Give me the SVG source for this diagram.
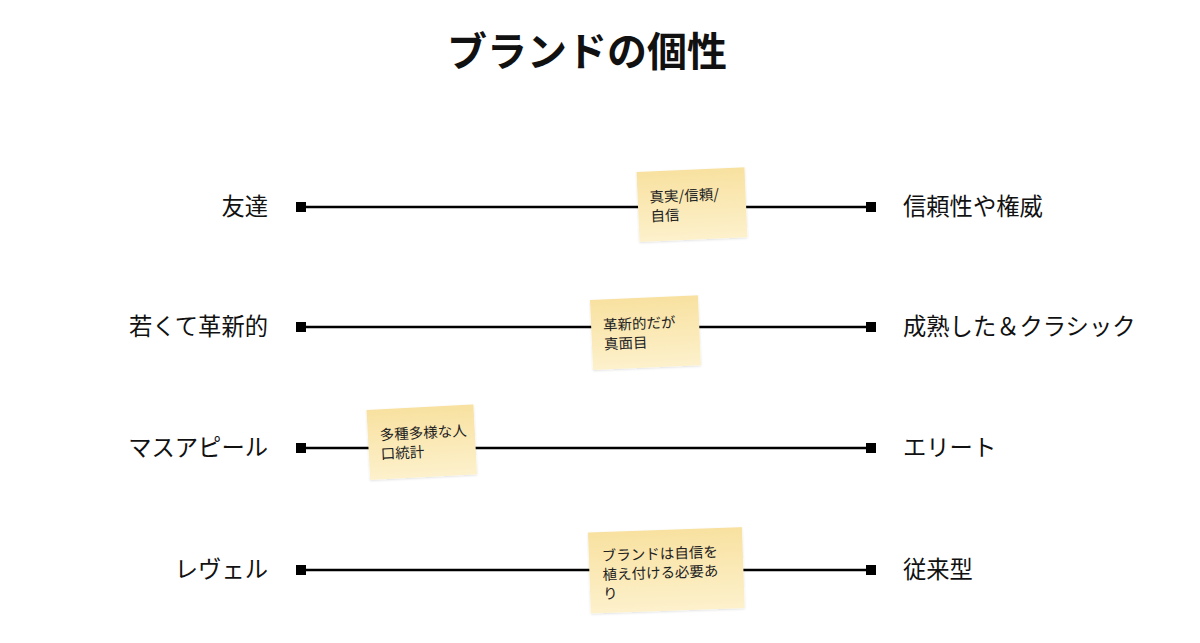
<svg xmlns="http://www.w3.org/2000/svg" width="1200" height="643" viewBox="0 0 1200 643">
<defs>
<linearGradient id="sticky" x1="0" y1="0" x2="0" y2="1">
<stop offset="0" stop-color="#f8e1a0"/>
<stop offset="1" stop-color="#fdf1cc"/>
</linearGradient>
<filter id="sh" x="-10%" y="-10%" width="130%" height="130%">
<feDropShadow dx="0" dy="1" stdDeviation="1" flood-color="#000" flood-opacity="0.12"/>
</filter>
<style>
.t{font-family:"Noto Sans CJK JP","Noto Sans",sans-serif;fill:#111;}
.lab{font-size:23.3px;}
.note{font-size:14.5px;fill:#222;}
.ln{stroke:#000;stroke-width:2.5;fill:none;}
.end{fill:#000;}
.st{fill:url(#sticky);filter:url(#sh);}
</style>
</defs>
<rect width="1200" height="643" fill="#fff"/>
<text class="t" x="587" y="66" text-anchor="middle" font-size="40" font-weight="bold">ブランドの個性</text>

<g id="connectors">
<line class="ln" x1="301" y1="207" x2="871" y2="207"/>
<line class="ln" x1="301" y1="327" x2="871" y2="327"/>
<line class="ln" x1="301" y1="448" x2="871" y2="448"/>
<line class="ln" x1="301" y1="570" x2="871" y2="570"/>
<rect class="end" x="296" y="202" width="10" height="10"/>
<rect class="end" x="866" y="202" width="10" height="10"/>
<rect class="end" x="296" y="322" width="10" height="10"/>
<rect class="end" x="866" y="322" width="10" height="10"/>
<rect class="end" x="296" y="443" width="10" height="10"/>
<rect class="end" x="866" y="443" width="10" height="10"/>
<rect class="end" x="296" y="565" width="10" height="10"/>
<rect class="end" x="866" y="565" width="10" height="10"/>
</g>

<g id="row1">
<text class="t lab" x="268" y="215" text-anchor="end">友達</text>
<text class="t lab" x="903" y="215">信頼性や権威</text>
</g>
<g id="row2">
<text class="t lab" x="268" y="335" text-anchor="end">若くて革新的</text>
<text class="t lab" x="903" y="335">成熟した＆クラシック</text>
</g>
<g id="row3">
<text class="t lab" x="268" y="456" text-anchor="end">マスアピール</text>
<text class="t lab" x="903" y="456">エリート</text>
</g>
<g id="row4">
<text class="t lab" x="268" y="578" text-anchor="end">レヴェル</text>
<text class="t lab" x="903" y="578">従来型</text>
</g>

<g id="note1" transform="translate(636.5,172) rotate(-2.5)">
<rect class="st" x="0" y="0" width="108" height="70"/>
<text class="t note" x="12" y="31">真実/信頼/</text>
<text class="t note" x="12" y="50">自信</text>
</g>
<g id="note2" transform="translate(590,300) rotate(-2.5)">
<rect class="st" x="0" y="0" width="108" height="70"/>
<text class="t note" x="12" y="31">革新的だが</text>
<text class="t note" x="12" y="50">真面目</text>
</g>
<g id="note3" transform="translate(366.5,410) rotate(-3)">
<rect class="st" x="0" y="0" width="107" height="70"/>
<text class="t note" x="12" y="31">多種多様な人</text>
<text class="t note" x="12" y="50">口統計</text>
</g>
<g id="note4" transform="translate(588,532.5) rotate(-2)">
<rect class="st" x="0" y="0" width="154" height="81"/>
<text class="t note" x="13" y="29">ブランドは自信を</text>
<text class="t note" x="13" y="48">植え付ける必要あ</text>
<text class="t note" x="13" y="67">り</text>
</g>
</svg>
